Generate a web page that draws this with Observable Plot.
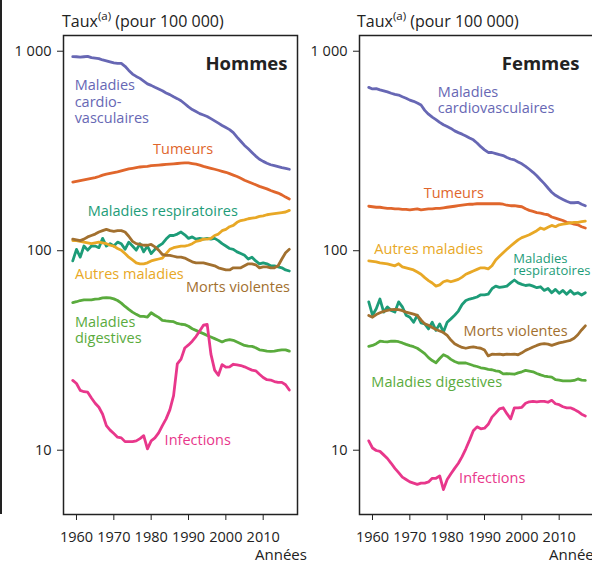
<!DOCTYPE html>
<html>
<head>
<meta charset="utf-8">
<script src="https://cdn.jsdelivr.net/npm/d3@7"></script>
<script src="https://cdn.jsdelivr.net/npm/@observablehq/plot@0.6"></script>
<style>
html, body { margin: 0; padding: 0; background: #fff; overflow: hidden; }
#wrap { position: relative; width: 592px; height: 561px; font-family: "Open Sans", sans-serif; color: #222; }
.panel { position: absolute; top: 0; width: 297px; height: 561px; }
.txt { position: absolute; font-size: 16px; line-height: 16px; white-space: nowrap; color: #222; }
.txt sup { font-size: 11.5px; line-height: 0; position: relative; top: -1px; vertical-align: super; }
.edge { position: absolute; left: 0; top: 0; width: 2px; height: 514px; background: #222; }
</style>
</head>
<body>
<div id="wrap">
  <div class="edge"></div>
  <div class="panel" id="pH" style="left:0"></div>
  <div class="panel" id="pF" style="left:296px"></div>
  <div class="txt" style="left:62px; top:13px">Taux<sup>(a)</sup> (pour 100 000)</div>
  <div class="txt" style="left:357px; top:13px">Taux<sup>(a)</sup> (pour 100 000)</div>
  <div class="txt" style="left:255px; top:546px; font-size:15px">Années</div>
  <div class="txt" style="left:549px; top:546px; font-size:15px">Années</div>
</div>
<script>
// ---- Data ----
const years = d3.range(1959, 2018);

const seriesKeys = ["cardio", "tumeurs", "resp", "autres", "morts", "digest", "inf"];
const seriesColors = ["#6767b4", "#e0662c", "#1d9c78", "#e8a826", "#a2702f", "#5aab3d", "#e8378b"];

// Hommes
const cardioH = [962,960,955,960,965,950,945,940,925,915, 905,895,890,890,860,820,786,765,748,725, 702,690,675,662,648,632,620,605,592,578, 558,538,522,510,498,490,482,470,458,446, 434,424,414,400,380,362,345,332,318,305, 294,287,281,276,273,270,267,265,262];
const tumeursH = [226,228,230,232,234,236,238,241,245,248, 250,252,254,257,260,263,265,267,269,270, 271,273,274,275,276,277,278,279,280,281, 282,282,280,278,275,271,268,265,262,259, 256,253,249,245,241,236,231,227,223,219, 215,212,209,205,202,199,195,190,186];
const respH = [91,104,95,108,103,108,108,106,118,108, 111,108,113,111,104,113,108,103,111,101, 108,99,104,108,111,117,122,122,124,127, 123,118,120,117,118,117,118,117,118,115, 111,108,105,104,101,99,97,93,95,91, 88,89,88,86,86,85,84,82,81];
const autresH = [115,115,114,113,112,111,112,113,112,111, 109,108,105,103,99,95,92,89,88,88, 89,91,92,93,94,99,104,106,107,108, 108,109,111,114,115,117,117,118,122,124, 129,131,135,137,142,145,146,148,149,150, 152,153,155,156,157,158,159,160,163];
const mortsH = [117,116,115,117,120,122,124,127,129,131, 129,128,129,129,127,121,114,111,110,109, 109,110,107,103,98,97,97,96,95,95, 94,92,90,89,89,89,88,87,86,84, 83,82,82,84,84,84,86,88,88,87, 84,85,85,84,84,86,93,100,104];
const digestH = [56.2,56.8,57.6,58,58,58,58.5,58.7,59.4,59.6, 59.4,58.7,57.6,55.9,53.8,52,50.4,49.1,48,48, 47.6,50,48.6,47.4,45.8,45.5,45.3,45.1,44.2,43.8, 43.6,42.8,41.6,40.8,40,39.3,38.5,37.8,37.1,36.4, 35.7,36.4,36.7,36.4,35.7,35,34.3,34,33.9,33.4, 32.6,32.4,32.1,32,32.1,32.4,32.6,32.6,32.1];
const infH = [22.9,22.1,20.4,20.1,20.0,18.7,17.6,16.8,15.5,13.6, 12.9,12.4,11.9,11.8,11.3,11.3,11.3,11.4,11.7,12.1, 10.4,11.4,11.8,12.5,13.6,14.7,16.3,19.2,27.7,29.3, 33.3,34.5,36,38,40.5,43.3,43.7,31,25.8,24.3, 27.5,26.7,26.8,27.6,27.4,27.2,26.8,26.3,25.8,25.6, 24.6,23.7,23.1,23.0,22.6,22.4,22.4,21.8,20.5];

// Femmes
const cardioF = [674,662,665,655,648,640,630,622,617,605, 595,582,574,563,550,517,495,478,465,450, 438,429,420,408,400,393,385,376,368,355, 340,328,318,318,314,310,307,300,295,292, 285,279,271,262,253,243,232,222,211,201, 194,189,185,181,178,178,179,175,172];
const tumeursF = [171,170,169,169,168,167,167,166,166,165, 165,164,165,166,164,165,166,166,167,167, 168,169,170,171,172,173,174,175,175,176, 176,176,176,176,176,176,175,173,172,172, 171,170,166,163,161,159,158,156,155,151, 149,147,145,142,141,139,138,135,133];
const respF = [56.7,48.6,52.4,58.6,50.4,53.5,51.4,50.4,56.7,53.5, 48.6,47.5,44.8,48.6,44.5,44,41.5,44.8,40.8,44, 40,44.8,46.6,48.6,51,55,57.6,58.6,59.2,60, 61.5,61.5,62,66,68,67,67.5,68,70.6,73, 70.6,69.4,68.5,69,68,66.8,67.5,64.7,66.2,63, 65.5,62.6,64.7,61.9,64.7,62,63,61.4,63];
const autresF = [91,90.5,90,89,88.5,88,87,86,88,85, 84,83,82,80,78,75,72.5,70.5,68,69, 71.5,72.5,71.5,72.5,73.5,75.5,78,79.5,81,82.5, 84,84,83,86,92,96,100,104,108,112, 116,119,121,123,126,129,133,131,134,137, 135,138,139,140,141,142,142,143,144];
const mortsF = [48.5,47.5,49,50,50.8,51.4,51.8,52,51.8,51.2, 50.4,49.8,49.2,48.5,46,44,43.3,42.2,41.2,40.5, 39.8,38.5,36.5,35,34.2,33.5,33.2,33.5,33.7,33.4, 33.2,32.5,30.4,31,30.9,31,30.8,31,30.9,31, 30.8,31.5,32.4,33,33.7,34.3,34.8,35,34.8,34.3, 34.8,35.3,35.6,36,36.4,37.3,38.8,41,43];
const digestF = [33.9,34.3,35,36,35.8,35.7,36,36,35.8,35.3, 34.7,34.2,33.8,33.2,32.2,31.2,29.8,28.8,28.1,29.5, 30.8,30.2,29.2,28.5,28,28,28,27.6,27.2,26.9, 26.5,26.3,26,25.9,25.6,25.4,24.7,24.8,24.7,24.6, 25,25.3,25.7,25.5,25.3,24.8,24.4,24.1,23.9,23.8, 23.1,23,22.8,22.8,22.8,22.9,23.3,23,22.9];
const infF = [11.4,10.5,10.2,10.1,9.7,9.3,8.8,8.3,7.9,7.5, 7.3,7.1,7.0,6.9,7.0,7.0,7.1,7.4,7.4,7.6, 6.5,7.3,7.8,8.3,8.8,9.5,10.4,11.5,12.8,13.4, 13.1,13.2,13.8,15.0,15.7,16.5,16.7,15.6,14.7,16.7, 16.7,16.8,17.6,17.9,18.0,17.9,18.0,18.0,17.8,18.2, 17.5,17.3,16.9,16.7,16.7,16.4,16.0,15.5,15.2];

// Ticks
const xTicks = [1960, 1970, 1980, 1990, 2000, 2010];
const yTicks = [10, 100, 1000];
const yTickLabels = ["10", "100", "1 000"];

// Series labels (anchored at data coordinates: year, rate)
const labelsH = [
  {key: "cardio", text: "Maladies\ncardio-\nvasculaires", year: 1959.5, value: 445},
  {key: "tumeurs", text: "Tumeurs", year: 1980.5, value: 312},
  {key: "resp", text: "Maladies respiratoires", year: 1963, value: 152},
  {key: "autres", text: "Autres maladies", year: 1959.6, value: 73.8},
  {key: "morts", text: "Morts violentes", year: 1989.3, value: 63.2},
  {key: "digest", text: "Maladies\ndigestives", year: 1959.6, value: 35.1},
  {key: "inf", text: "Infections", year: 1983.6, value: 10.9}
];
const labelsF = [
  {key: "cardio", text: "Maladies\ncardiovasculaires", year: 1977.5, value: 499},
  {key: "tumeurs", text: "Tumeurs", year: 1973.7, value: 189},
  {key: "autres", text: "Autres maladies", year: 1960.5, value: 98.5},
  {key: "morts", text: "Morts violentes", year: 1984.4, value: 38.4},
  {key: "digest", text: "Maladies digestives", year: 1959.7, value: 21.3},
  {key: "inf", text: "Infections", year: 1983.2, value: 6.98}
];
const labelsFTight = [
  {key: "resp", text: "Maladies\nrespiratoires", year: 1997.7, value: 77.6}
];
const titleH = [{text: "Hommes", year: 2016.5, value: 827}];
const titleF = [{text: "Femmes", year: 2015.4, value: 827}];

// ---- Build ----
function toRows(list) {
  return list.flatMap(([key, vals]) => years.map((yr, i) => ({key, year: yr, value: vals[i]})));
}

function panel(rows, labels, tight, title) {
  return Plot.plot({
    width: 297,
    height: 561,
    marginLeft: 63,
    marginRight: 0,
    marginTop: 35,
    marginBottom: 47,
    style: {fontFamily: "Open Sans, sans-serif", fontSize: "14.5px", color: "#222", background: "transparent", overflow: "visible"},
    x: {domain: [1956.52, 2019.19]},
    y: {type: "log", domain: [4.873, 1227]},
    color: {domain: seriesKeys, range: seriesColors},
    marks: [
      Plot.axisY({ticks: yTicks, tickFormat: d => yTickLabels[yTicks.indexOf(d)], tickSize: 6, tickPadding: 6, label: null, dy: -2}),
      Plot.axisX({ticks: xTicks, tickFormat: d => String(d), tickSize: 6, tickPadding: 11, label: null}),
      Plot.line(rows, {x: "year", y: "value", z: "key", stroke: "key", strokeWidth: 2.8, strokeLinejoin: "round", strokeLinecap: "round"}),
      Plot.text(labels, {x: "year", y: "value", text: "text", fill: "key", textAnchor: "start", lineAnchor: "bottom", lineHeight: 1.15, fontSize: 14.5}),
      Plot.text(tight, {x: "year", y: "value", text: "text", fill: "key", textAnchor: "start", lineAnchor: "bottom", lineHeight: 0.88, fontSize: 13}),
      Plot.text(title, {x: "year", y: "value", text: "text", fill: "#222", textAnchor: "end", lineAnchor: "bottom", fontSize: 18.5, fontWeight: "bold"}),
      Plot.frame({stroke: "#222", strokeWidth: 1.5})
    ]
  });
}

const rowsH = toRows([["cardio", cardioH], ["tumeurs", tumeursH], ["resp", respH], ["autres", autresH], ["morts", mortsH], ["digest", digestH], ["inf", infH]]);
const rowsF = toRows([["cardio", cardioF], ["tumeurs", tumeursF], ["resp", respF], ["autres", autresF], ["morts", mortsF], ["digest", digestF], ["inf", infF]]);

document.getElementById("pH").appendChild(panel(rowsH, labelsH, [], titleH));
document.getElementById("pF").appendChild(panel(rowsF, labelsF, labelsFTight, titleF));
</script>
</body>
</html>
